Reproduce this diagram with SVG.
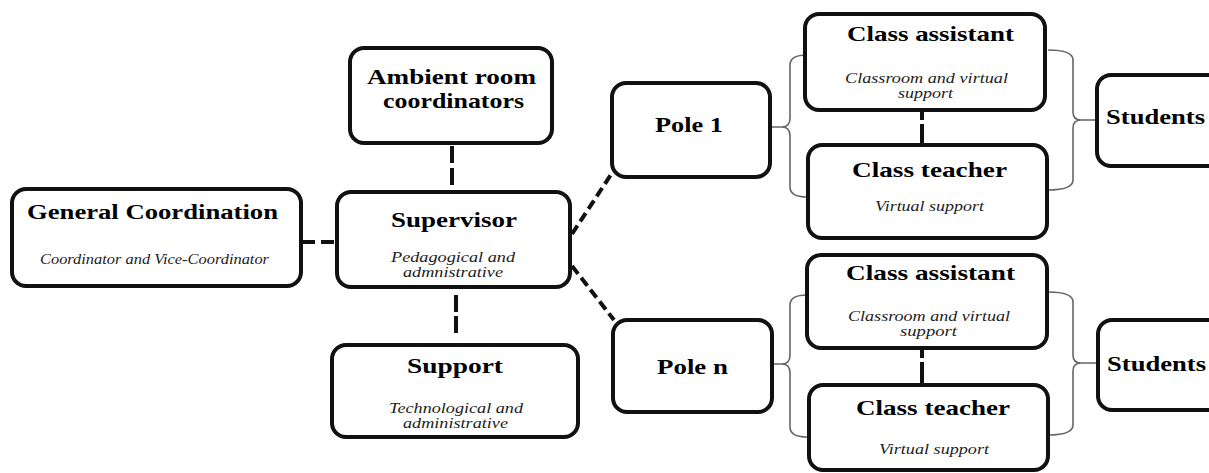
<svg xmlns="http://www.w3.org/2000/svg" width="1209" height="473" viewBox="0 0 1209 473">
<style>
.box{fill:#fff;stroke:#111;stroke-width:4}
.t{font-family:"Liberation Serif","Times New Roman",serif;font-weight:bold;fill:#000;text-anchor:middle}
.s{font-family:"Liberation Serif","Times New Roman",serif;font-style:italic;fill:#222;text-anchor:middle}
.dash{fill:none;stroke:#111;stroke-width:4}
.brace{fill:none;stroke:#666;stroke-width:1.6}
</style>
<rect width="1209" height="473" fill="#fff"/>
<g id="connectors">
<path class="dash" d="M302,242 L337,242" stroke-dasharray="13 6"/>
<path class="dash" d="M452,146 L452,190" stroke-dasharray="17 5"/>
<path class="dash" d="M456,295 L456,334" stroke-dasharray="17 4"/>
<path class="dash" d="M572,234 L612,173" stroke-dasharray="10 5"/>
<path class="dash" d="M572,266 L614,320" stroke-dasharray="10 5"/>
<path class="dash" d="M922,111 L922,145" stroke-dasharray="9 4 40 0"/>
<path class="dash" d="M922,349 L922,385" stroke-dasharray="9 4 40 0"/>
<path class="brace" d="M770,127 L782,127 M807,55 Q790,55 790,65 L790,118 Q790,127 782,127 Q790,127 790,136 L790,187 Q790,197 807,197"/>
<path class="brace" d="M1048,50 Q1073,50 1073,60 L1073,112 Q1073,120 1081,120 Q1073,120 1073,128 L1073,180 Q1073,190 1048,190 M1081,120 L1097,120"/>
<path class="brace" d="M772,364 L782,364 M807,295 Q790,295 790,305 L790,355 Q790,364 782,364 Q790,364 790,373 L790,427 Q790,437 807,437"/>
<path class="brace" d="M1048,292 Q1073,292 1073,302 L1073,355 Q1073,363 1081,363 Q1073,363 1073,371 L1073,425 Q1073,435 1048,435 M1081,363 L1098,363"/>
</g>
<g id="general-coordination">
<rect class="box" x="12" y="189" width="289" height="97" rx="14"/>
<text class="t" x="152.5" y="219" font-size="20" textLength="251" lengthAdjust="spacingAndGlyphs">General Coordination</text>
<text class="s" x="154.5" y="264" font-size="15" textLength="229" lengthAdjust="spacingAndGlyphs">Coordinator and Vice-Coordinator</text>
</g>
<g id="ambient-room-coordinators">
<rect class="box" x="350" y="48" width="202" height="95" rx="14"/>
<text class="t" x="451.5" y="84" font-size="21" textLength="169" lengthAdjust="spacingAndGlyphs">Ambient room</text>
<text class="t" x="453.5" y="108" font-size="21" textLength="141" lengthAdjust="spacingAndGlyphs">coordinators</text>
</g>
<g id="supervisor">
<rect class="box" x="337" y="192" width="233" height="95" rx="14"/>
<text class="t" x="454" y="227" font-size="21" textLength="126" lengthAdjust="spacingAndGlyphs">Supervisor</text>
<text class="s" x="453" y="262" font-size="14.5" textLength="124" lengthAdjust="spacingAndGlyphs">Pedagogical and</text>
<text class="s" x="453" y="277" font-size="14.5" textLength="100" lengthAdjust="spacingAndGlyphs">admnistrative</text>
</g>
<g id="support">
<rect class="box" x="332" y="345" width="246" height="92" rx="14"/>
<text class="t" x="455" y="373" font-size="21" textLength="96" lengthAdjust="spacingAndGlyphs">Support</text>
<text class="s" x="456" y="413" font-size="14.5" textLength="134" lengthAdjust="spacingAndGlyphs">Technological and</text>
<text class="s" x="455.5" y="428" font-size="14.5" textLength="105" lengthAdjust="spacingAndGlyphs">administrative</text>
</g>
<g id="pole-1">
<rect class="box" x="612" y="83" width="158" height="94" rx="14"/>
<text class="t" x="689" y="132" font-size="20" textLength="68" lengthAdjust="spacingAndGlyphs">Pole 1</text>
</g>
<g id="pole-n">
<rect class="box" x="613" y="320" width="159" height="92" rx="14"/>
<text class="t" x="692.5" y="374" font-size="20" textLength="71" lengthAdjust="spacingAndGlyphs">Pole n</text>
</g>
<g id="class-assistant-1">
<rect class="box" x="805" y="14" width="240" height="96" rx="14"/>
<text class="t" x="930.5" y="41" font-size="21" textLength="167" lengthAdjust="spacingAndGlyphs">Class assistant</text>
<text class="s" x="926.5" y="83" font-size="14" textLength="163" lengthAdjust="spacingAndGlyphs">Classroom and virtual</text>
<text class="s" x="925.5" y="98" font-size="14" textLength="55" lengthAdjust="spacingAndGlyphs">support</text>
</g>
<g id="class-teacher-1">
<rect class="box" x="808" y="145" width="239" height="93" rx="14"/>
<text class="t" x="929.5" y="177" font-size="21" textLength="155" lengthAdjust="spacingAndGlyphs">Class teacher</text>
<text class="s" x="929.5" y="211" font-size="15" textLength="109" lengthAdjust="spacingAndGlyphs">Virtual support</text>
</g>
<g id="class-assistant-n">
<rect class="box" x="807" y="255" width="240" height="93" rx="14"/>
<text class="t" x="930.5" y="280" font-size="21" textLength="169" lengthAdjust="spacingAndGlyphs">Class assistant</text>
<text class="s" x="929" y="321" font-size="14" textLength="162" lengthAdjust="spacingAndGlyphs">Classroom and virtual</text>
<text class="s" x="928.5" y="336" font-size="14" textLength="57" lengthAdjust="spacingAndGlyphs">support</text>
</g>
<g id="class-teacher-n">
<rect class="box" x="809" y="385" width="239" height="85" rx="14"/>
<text class="t" x="933" y="415" font-size="21" textLength="154" lengthAdjust="spacingAndGlyphs">Class teacher</text>
<text class="s" x="934" y="454" font-size="15" textLength="110" lengthAdjust="spacingAndGlyphs">Virtual support</text>
</g>
<g id="students-1">
<rect class="box" x="1097" y="75" width="130" height="91" rx="14"/>
<text class="t" x="1106" y="124" font-size="21" textLength="99" lengthAdjust="spacingAndGlyphs" style="text-anchor:start">Students</text>
</g>
<g id="students-n">
<rect class="box" x="1098" y="320" width="130" height="90" rx="14"/>
<text class="t" x="1107" y="371" font-size="21" textLength="99" lengthAdjust="spacingAndGlyphs" style="text-anchor:start">Students</text>
</g>
</svg>
